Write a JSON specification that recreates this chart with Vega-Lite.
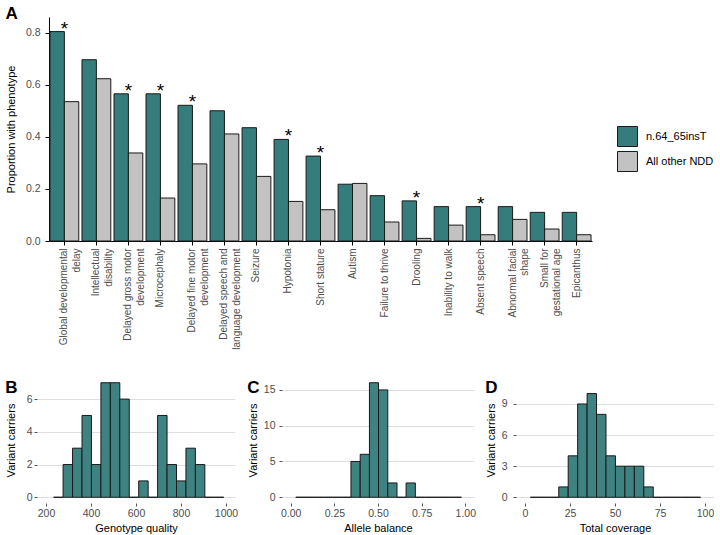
{
  "$schema": "https://vega.github.io/schema/vega-lite/v6.json",
  "background": "white",
  "padding": {"left": 5, "top": 5, "right": 0, "bottom": 0},
  "config": {
    "font": "Liberation Sans",
    "view": {"stroke": null},
    "axis": {"labelColor": "#4D4D4D", "titleColor": "#000000", "titleFontWeight": "normal", "titleFontSize": 11, "labelFontSize": 10.5, "tickColor": "#333333", "domainColor": "#000000"},
    "title": {"fontSize": 17, "fontWeight": "bold", "anchor": "start", "frame": "bounds", "color": "#000000"}
  },
  "datasets": {
    "pheno": [
      {"phenotype": "Global developmental\ndelay", "group": "n.64_65insT", "proportion": 0.804, "star": true},
      {"phenotype": "Global developmental\ndelay", "group": "All other NDD", "proportion": 0.535, "star": false},
      {"phenotype": "Intellectual\ndisability", "group": "n.64_65insT", "proportion": 0.696, "star": false},
      {"phenotype": "Intellectual\ndisability", "group": "All other NDD", "proportion": 0.623, "star": false},
      {"phenotype": "Delayed gross motor\ndevelopment", "group": "n.64_65insT", "proportion": 0.565, "star": true},
      {"phenotype": "Delayed gross motor\ndevelopment", "group": "All other NDD", "proportion": 0.338, "star": false},
      {"phenotype": "Microcephaly", "group": "n.64_65insT", "proportion": 0.565, "star": true},
      {"phenotype": "Microcephaly", "group": "All other NDD", "proportion": 0.165, "star": false},
      {"phenotype": "Delayed fine motor\ndevelopment", "group": "n.64_65insT", "proportion": 0.521, "star": true},
      {"phenotype": "Delayed fine motor\ndevelopment", "group": "All other NDD", "proportion": 0.296, "star": false},
      {"phenotype": "Delayed speech and\nlanguage development", "group": "n.64_65insT", "proportion": 0.5, "star": false},
      {"phenotype": "Delayed speech and\nlanguage development", "group": "All other NDD", "proportion": 0.411, "star": false},
      {"phenotype": "Seizure", "group": "n.64_65insT", "proportion": 0.435, "star": false},
      {"phenotype": "Seizure", "group": "All other NDD", "proportion": 0.248, "star": false},
      {"phenotype": "Hypotonia", "group": "n.64_65insT", "proportion": 0.39, "star": true},
      {"phenotype": "Hypotonia", "group": "All other NDD", "proportion": 0.152, "star": false},
      {"phenotype": "Short stature", "group": "n.64_65insT", "proportion": 0.326, "star": true},
      {"phenotype": "Short stature", "group": "All other NDD", "proportion": 0.12, "star": false},
      {"phenotype": "Autism", "group": "n.64_65insT", "proportion": 0.218, "star": false},
      {"phenotype": "Autism", "group": "All other NDD", "proportion": 0.221, "star": false},
      {"phenotype": "Failure to thrive", "group": "n.64_65insT", "proportion": 0.174, "star": false},
      {"phenotype": "Failure to thrive", "group": "All other NDD", "proportion": 0.073, "star": false},
      {"phenotype": "Drooling", "group": "n.64_65insT", "proportion": 0.154, "star": true},
      {"phenotype": "Drooling", "group": "All other NDD", "proportion": 0.01, "star": false},
      {"phenotype": "Inability to walk", "group": "n.64_65insT", "proportion": 0.132, "star": false},
      {"phenotype": "Inability to walk", "group": "All other NDD", "proportion": 0.061, "star": false},
      {"phenotype": "Absent speech", "group": "n.64_65insT", "proportion": 0.132, "star": true},
      {"phenotype": "Absent speech", "group": "All other NDD", "proportion": 0.024, "star": false},
      {"phenotype": "Abnormal facial\nshape", "group": "n.64_65insT", "proportion": 0.132, "star": false},
      {"phenotype": "Abnormal facial\nshape", "group": "All other NDD", "proportion": 0.083, "star": false},
      {"phenotype": "Small for\ngestational age", "group": "n.64_65insT", "proportion": 0.11, "star": false},
      {"phenotype": "Small for\ngestational age", "group": "All other NDD", "proportion": 0.046, "star": false},
      {"phenotype": "Epicanthus", "group": "n.64_65insT", "proportion": 0.11, "star": false},
      {"phenotype": "Epicanthus", "group": "All other NDD", "proportion": 0.024, "star": false}
    ],
    "gq": [
      {"bin_start": 234, "bin_end": 276, "count": 0},
      {"bin_start": 276, "bin_end": 318, "count": 2},
      {"bin_start": 318, "bin_end": 360, "count": 3},
      {"bin_start": 360, "bin_end": 402, "count": 5},
      {"bin_start": 402, "bin_end": 444, "count": 2},
      {"bin_start": 444, "bin_end": 486, "count": 7},
      {"bin_start": 486, "bin_end": 528, "count": 7},
      {"bin_start": 528, "bin_end": 570, "count": 6},
      {"bin_start": 570, "bin_end": 612, "count": 0},
      {"bin_start": 612, "bin_end": 654, "count": 1},
      {"bin_start": 654, "bin_end": 696, "count": 0},
      {"bin_start": 696, "bin_end": 738, "count": 5},
      {"bin_start": 738, "bin_end": 780, "count": 2},
      {"bin_start": 780, "bin_end": 822, "count": 1},
      {"bin_start": 822, "bin_end": 864, "count": 3},
      {"bin_start": 864, "bin_end": 906, "count": 2},
      {"bin_start": 906, "bin_end": 948, "count": 0},
      {"bin_start": 948, "bin_end": 990, "count": 0}
    ],
    "ab": [
      {"bin_start": 0.029, "bin_end": 0.082, "count": 0},
      {"bin_start": 0.082, "bin_end": 0.134, "count": 0},
      {"bin_start": 0.134, "bin_end": 0.187, "count": 0},
      {"bin_start": 0.187, "bin_end": 0.240, "count": 0},
      {"bin_start": 0.240, "bin_end": 0.293, "count": 0},
      {"bin_start": 0.293, "bin_end": 0.345, "count": 0},
      {"bin_start": 0.345, "bin_end": 0.398, "count": 5},
      {"bin_start": 0.398, "bin_end": 0.451, "count": 6},
      {"bin_start": 0.451, "bin_end": 0.503, "count": 16},
      {"bin_start": 0.503, "bin_end": 0.556, "count": 15},
      {"bin_start": 0.556, "bin_end": 0.609, "count": 2},
      {"bin_start": 0.609, "bin_end": 0.661, "count": 0},
      {"bin_start": 0.661, "bin_end": 0.714, "count": 2},
      {"bin_start": 0.714, "bin_end": 0.767, "count": 0},
      {"bin_start": 0.767, "bin_end": 0.820, "count": 0},
      {"bin_start": 0.820, "bin_end": 0.872, "count": 0},
      {"bin_start": 0.872, "bin_end": 0.925, "count": 0},
      {"bin_start": 0.925, "bin_end": 0.978, "count": 0}
    ],
    "cov": [
      {"bin_start": 3, "bin_end": 8.25, "count": 0},
      {"bin_start": 8.25, "bin_end": 13.5, "count": 0},
      {"bin_start": 13.5, "bin_end": 18.75, "count": 0},
      {"bin_start": 18.75, "bin_end": 24, "count": 1},
      {"bin_start": 24, "bin_end": 29.25, "count": 4},
      {"bin_start": 29.25, "bin_end": 34.5, "count": 9},
      {"bin_start": 34.5, "bin_end": 39.75, "count": 10},
      {"bin_start": 39.75, "bin_end": 45, "count": 8},
      {"bin_start": 45, "bin_end": 50.25, "count": 4},
      {"bin_start": 50.25, "bin_end": 55.5, "count": 3},
      {"bin_start": 55.5, "bin_end": 60.75, "count": 3},
      {"bin_start": 60.75, "bin_end": 66, "count": 3},
      {"bin_start": 66, "bin_end": 71.25, "count": 1},
      {"bin_start": 71.25, "bin_end": 76.5, "count": 0},
      {"bin_start": 76.5, "bin_end": 81.75, "count": 0},
      {"bin_start": 81.75, "bin_end": 87, "count": 0},
      {"bin_start": 87, "bin_end": 92.25, "count": 0},
      {"bin_start": 92.25, "bin_end": 97.5, "count": 0}
    ]
  },
  "spacing": 27,
  "vconcat": [
    {
      "title": {"text": "A", "offset": -6},
      "width": 555,
      "height": 224,
      "data": {"name": "pheno"},
      "layer": [
        {
          "mark": {"type": "bar", "stroke": "#1a1a1a", "strokeWidth": 1},
          "encoding": {
            "x": {
              "field": "phenotype", "type": "nominal",
              "sort": ["Global developmental\ndelay", "Intellectual\ndisability", "Delayed gross motor\ndevelopment", "Microcephaly", "Delayed fine motor\ndevelopment", "Delayed speech and\nlanguage development", "Seizure", "Hypotonia", "Short stature", "Autism", "Failure to thrive", "Drooling", "Inability to walk", "Absent speech", "Abnormal facial\nshape", "Small for\ngestational age", "Epicanthus"],
              "scale": {"range": [12, 555], "paddingInner": 0.1, "paddingOuter": 0.03},
              "axis": {"title": null, "labelAngle": -90, "labelAlign": "right", "labelBaseline": "middle", "labelExpr": "split(datum.label, '\\n')", "labelLineHeight": 12.5, "labelFontSize": 10, "labelPadding": 3, "tickSize": 4, "tickColor": "#000000", "domainColor": "#000000", "labelLimit": 200}
            },
            "xOffset": {"field": "group", "type": "nominal", "sort": ["n.64_65insT", "All other NDD"]},
            "y": {
              "field": "proportion", "type": "quantitative",
              "scale": {"domain": [0, 0.86], "nice": false},
              "axis": {"title": "Proportion with phenotype", "offset": -12, "values": [0, 0.2, 0.4, 0.6, 0.8], "format": ".1f", "grid": false, "tickSize": 4, "tickColor": "#000000", "labelPadding": 5, "titlePadding": 9}
            },
            "color": {
              "field": "group", "type": "nominal",
              "scale": {"domain": ["n.64_65insT", "All other NDD"], "range": ["#347D7C", "#C2C2C2"]},
              "legend": {"title": null, "orient": "none", "legendX": 580, "legendY": 109, "symbolType": "square", "symbolSize": 400, "symbolStrokeColor": "#1a1a1a", "symbolStrokeWidth": 1, "symbolOpacity": 1, "rowPadding": 0, "labelFontSize": 11, "labelColor": "#000000", "labelOffset": 8, "padding": 0}
            }
          }
        },
        {
          "transform": [{"filter": "datum.star"}],
          "mark": {"type": "text", "text": "*", "fontSize": 19, "baseline": "alphabetic", "dy": 3, "color": "#000000"},
          "encoding": {
            "x": {"field": "phenotype", "type": "nominal", "sort": ["Global developmental\ndelay", "Intellectual\ndisability", "Delayed gross motor\ndevelopment", "Microcephaly", "Delayed fine motor\ndevelopment", "Delayed speech and\nlanguage development", "Seizure", "Hypotonia", "Short stature", "Autism", "Failure to thrive", "Drooling", "Inability to walk", "Absent speech", "Abnormal facial\nshape", "Small for\ngestational age", "Epicanthus"]},
            "y": {"field": "proportion", "type": "quantitative"}
          }
        }
      ]
    },
    {
      "spacing": 9,
      "hconcat": [
        {
          "title": {"text": "B", "offset": -20},
          "width": 198, "height": 126,
          "data": {"name": "gq"},
          "mark": {"type": "bar", "color": "#3E8281", "stroke": "#1a1a1a", "strokeWidth": 1},
          "encoding": {
            "x": {"field": "bin_start", "type": "quantitative", "scale": {"domain": [160, 1040], "nice": false, "zero": false},
                  "axis": {"title": "Genotype quality", "values": [200, 400, 600, 800, 1000], "format": "d", "grid": false, "domain": false, "tickSize": 3, "tickColor": "#555555", "labelPadding": 2, "titlePadding": 4}},
            "x2": {"field": "bin_end"},
            "y": {"field": "count", "type": "quantitative", "scale": {"domain": [-0.35, 7.35], "nice": false, "zero": false},
                  "axis": {"title": "Variant carriers", "values": [0, 2, 4, 6], "grid": true, "gridColor": "#DEDEDE", "domain": false, "tickSize": 3, "tickColor": "#555555", "labelPadding": 2, "titlePadding": 10}},
            "y2": {"datum": 0}
          }
        },
        {
          "title": {"text": "C", "offset": -20},
          "width": 192, "height": 126,
          "data": {"name": "ab"},
          "mark": {"type": "bar", "color": "#3E8281", "stroke": "#1a1a1a", "strokeWidth": 1},
          "encoding": {
            "x": {"field": "bin_start", "type": "quantitative", "scale": {"domain": [-0.05, 1.05], "nice": false, "zero": false},
                  "axis": {"title": "Allele balance", "values": [0, 0.25, 0.5, 0.75, 1], "format": ".2f", "grid": false, "domain": false, "tickSize": 3, "tickColor": "#555555", "labelPadding": 2, "titlePadding": 4}},
            "x2": {"field": "bin_end"},
            "y": {"field": "count", "type": "quantitative", "scale": {"domain": [-0.8, 16.8], "nice": false, "zero": false},
                  "axis": {"title": "Variant carriers", "values": [0, 5, 10, 15], "grid": true, "gridColor": "#DEDEDE", "domain": false, "tickSize": 3, "tickColor": "#555555", "labelPadding": 4, "titlePadding": 5}},
            "y2": {"datum": 0}
          }
        },
        {
          "title": {"text": "D", "offset": -20},
          "width": 198, "height": 126,
          "data": {"name": "cov"},
          "mark": {"type": "bar", "color": "#3E8281", "stroke": "#1a1a1a", "strokeWidth": 1},
          "encoding": {
            "x": {"field": "bin_start", "type": "quantitative", "scale": {"domain": [-5, 105], "nice": false, "zero": false},
                  "axis": {"title": "Total coverage", "values": [0, 25, 50, 75, 100], "grid": false, "domain": false, "tickSize": 3, "tickColor": "#555555", "labelPadding": 2, "titlePadding": 4}},
            "x2": {"field": "bin_end"},
            "y": {"field": "count", "type": "quantitative", "scale": {"domain": [-0.55, 11.6], "nice": false, "zero": false},
                  "axis": {"title": "Variant carriers", "values": [0, 3, 6, 9], "grid": true, "gridColor": "#DEDEDE", "domain": false, "tickSize": 3, "tickColor": "#555555", "labelPadding": 6, "titlePadding": 5}},
            "y2": {"datum": 0}
          }
        }
      ]
    }
  ]
}
